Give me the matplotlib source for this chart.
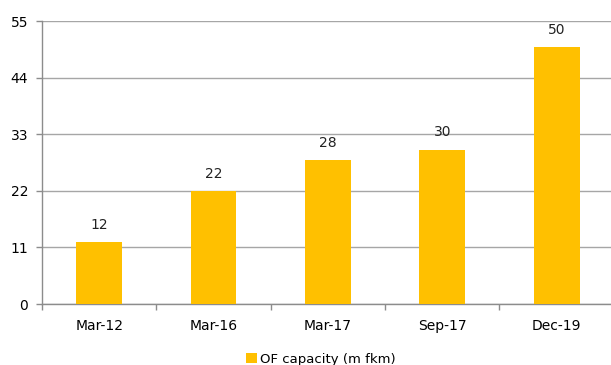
import matplotlib.pyplot as plt
import numpy as np

categories = ["Mar-12", "Mar-16", "Mar-17", "Sep-17", "Dec-19"]
capacity = [12, 22, 28, 30, 50]
y_ticks = [0, 11, 22, 33, 44, 55]

gold = "#FFC000"
grey = "#8C8C8C"

fig = plt.figure(figsize=(6.11, 3.65), dpi=100)
ax = fig.add_axes([0.0687, 0.167, 0.936, 0.775])

x = np.arange(len(categories))
bars = ax.bar(x, capacity, width=0.4, color=gold, label="OF capacity (m fkm)", zorder=3)
for xi, v in zip(x, capacity):
    ax.text(xi, v + 2.0, str(v), ha="center", va="bottom", fontsize=10, color="#222222")

ax.set_xlim(-0.5, len(categories) - 0.5)
ax.set_ylim(0, 55)
ax.set_yticks(y_ticks)
ax.set_xticks(x)
ax.set_xticklabels(categories, fontsize=10)
ax.tick_params(axis="y", labelsize=10, length=4, color=grey, width=1, pad=6)
ax.tick_params(axis="x", length=0, pad=11)
ax.set_xticks(np.arange(len(categories) + 1) - 0.5, minor=True)
ax.tick_params(axis="x", which="minor", length=4, color=grey, width=1)

ax.grid(axis="y", color="#A6A6A6", linewidth=1, zorder=0)
for side in ["top", "right"]:
    ax.spines[side].set_visible(False)
for side in ["left", "bottom"]:
    ax.spines[side].set_color(grey)
    ax.spines[side].set_linewidth(1)

fig.legend(loc="lower center", bbox_to_anchor=(0.525, -0.035), frameon=False, fontsize=9.5,
           handlelength=0.8, handleheight=0.8, handletextpad=0.2)

fig.savefig("out.png", dpi=100)
